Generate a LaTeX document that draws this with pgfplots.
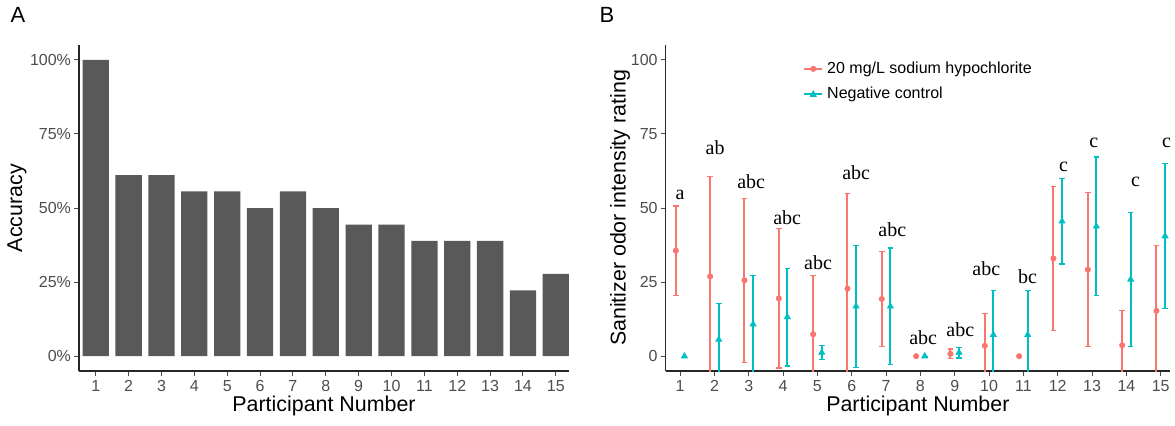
\documentclass[border=0pt]{standalone}
\usepackage{fontspec}
\setmainfont{Liberation Sans}
\newfontfamily\serifletters{Liberation Serif}
\usepackage{pgfplots}
\pgfplotsset{compat=1.18}
\definecolor{ggred}{HTML}{F8766D}
\definecolor{ggteal}{HTML}{00BFC4}
\definecolor{bargray}{HTML}{595959}
\definecolor{tickgray}{HTML}{4D4D4D}

\pgfplotsset{ggstyle/.style={
  scale only axis, height=163pt,
  axis x line*=bottom, axis y line*=left,
  axis line style={-, line width=0.75pt, black!85},
  tick style={black!70, line width=0.5pt},
  major tick length=2.5pt, tick align=outside,
  ymin=-5, ymax=105, ytick={0,25,50,75,100},
  xtick={1,...,15},
  /pgf/number format/assume math mode=true,
  ticklabel style={font=\fontsize{8}{9.6}\selectfont, text=tickgray},
  xticklabel style={yshift=1.5pt},
  yticklabel style={xshift=2pt},
  label style={font=\fontsize{10.7}{12.8}\selectfont},
  xlabel={Participant Number},
  xlabel style={at={(axis description cs:0.5,-0.107)}, anchor=center},
}}

\begin{document}
\begin{tikzpicture}[x=1pt,y=1pt]
\useasboundingbox (0,0) rectangle (587.5,212.5);
\node[font=\fontsize{11}{13}\selectfont] at (9,205) {A};
\node[font=\fontsize{11}{13}\selectfont] at (303.5,205) {B};

\begin{axis}[ggstyle, at={(39.5pt,27pt)}, anchor=south west,
  width=245pt, xmin=0.49, xmax=15.4,
  yticklabel={\pgfmathprintnumber{\tick}\%},
  ylabel={Accuracy},
  ylabel style={at={(axis description cs:-0.1265,0.5)}, anchor=center}]
\addplot[ybar, bar width=0.8, fill=bargray, draw=none] coordinates {
(1,100) (2,61.1) (3,61.1) (4,55.6) (5,55.6) (6,50) (7,55.6) (8,50)
(9,44.4) (10,44.4) (11,38.9) (12,38.9) (13,38.9) (14,22.2) (15,27.8)};
\end{axis}

\begin{axis}[ggstyle, at={(332.85pt,27pt)}, anchor=south west,
  width=252.15pt, xmin=0.58, xmax=15.27,
  ylabel={Sanitizer odor intensity rating},
  ylabel style={at={(axis description cs:-0.0906,0.5)}, anchor=center},
  legend style={draw=none, fill=none, at={(0.26,0.975)}, anchor=north west,
    font=\fontsize{8}{9.6}\selectfont, row sep=1.5pt},
  legend cell align=left]
\addplot[only marks, mark=*, color=ggred, mark size=1.3pt,
  legend image code/.code={\draw[ggred, line width=1pt] (0pt,0pt)--(9pt,0pt); \fill[ggred] (4.5pt,0pt) circle (1.3pt);},
  error bars/.cd, y dir=both, y explicit,
  error bar style={line width=1pt, ggred},
  error mark options={rotate=90, mark size=1.4pt, line width=0.6pt, ggred}]
coordinates {
(0.875,35.6) +- (0,15.1)
(1.875,26.9) +- (0,33.8)
(2.875,25.6) +- (0,27.6)
(3.875,19.5) +- (0,23.5)
(4.875,7.4) +- (0,19.9)
(5.875,22.8) +- (0,32.1)
(6.875,19.3) +- (0,15.9)
(7.875,0) +- (0,0)
(8.875,0.8) +- (0,1.6)
(9.875,3.5) +- (0,11.0)
(10.875,0) +- (0,0)
(11.875,33.0) +- (0,24.3)
(12.875,29.2) +- (0,25.9)
(13.875,3.7) +- (0,11.7)
(14.875,15.3) +- (0,22.0)
};
\addplot[only marks, mark=triangle*, color=ggteal, mark size=1.7pt,
  legend image code/.code={\draw[ggteal, line width=1pt] (0pt,0pt)--(9pt,0pt); \fill[ggteal] (3pt,-1pt)--(6pt,-1pt)--(4.5pt,1.8pt)--cycle;},
  error bars/.cd, y dir=both, y explicit,
  error bar style={line width=1pt, ggteal},
  error mark options={rotate=90, mark size=1.4pt, line width=0.6pt, ggteal}]
coordinates {
(1.125,0) +- (0,0)
(2.125,5.6) +- (0,12.2)
(3.125,10.8) +- (0,16.5)
(4.125,13.2) +- (0,16.5)
(5.125,1.2) +- (0,2.3)
(6.125,16.8) +- (0,20.6)
(7.125,16.8) +- (0,19.7)
(8.125,0) +- (0,0)
(9.125,1.2) +- (0,1.8)
(10.125,7.2) +- (0,14.9)
(11.125,7.2) +- (0,14.9)
(12.125,45.5) +- (0,14.4)
(13.125,43.8) +- (0,23.4)
(14.125,25.9) +- (0,22.5)
(15.125,40.5) +- (0,24.4)
};
\legend{20 mg/L sodium hypochlorite, Negative control}
\addplot[draw=none, mark=none, nodes near coords, point meta=explicit symbolic,
  every node near coord/.style={anchor=center, inner sep=0pt, text=black,
    font=\serifletters\fontsize{10}{12}\selectfont}]
coordinates {
(1.0,54.4)[a] (2.02,70.3)[ab] (3.07,58.8)[abc] (4.12,46.6)[abc]
(5.02,31.4)[abc] (6.13,61.8)[abc] (7.18,42.6)[abc] (8.08,6.4)[abc]
(9.16,8.8)[abc] (9.92,29.4)[abc] (11.12,27.0)[bc] (12.17,63.8)[c]
(13.05,72.0)[c] (14.27,58.8)[c] (15.17,72.0)[c]
};
\end{axis}
\end{tikzpicture}
\end{document}
